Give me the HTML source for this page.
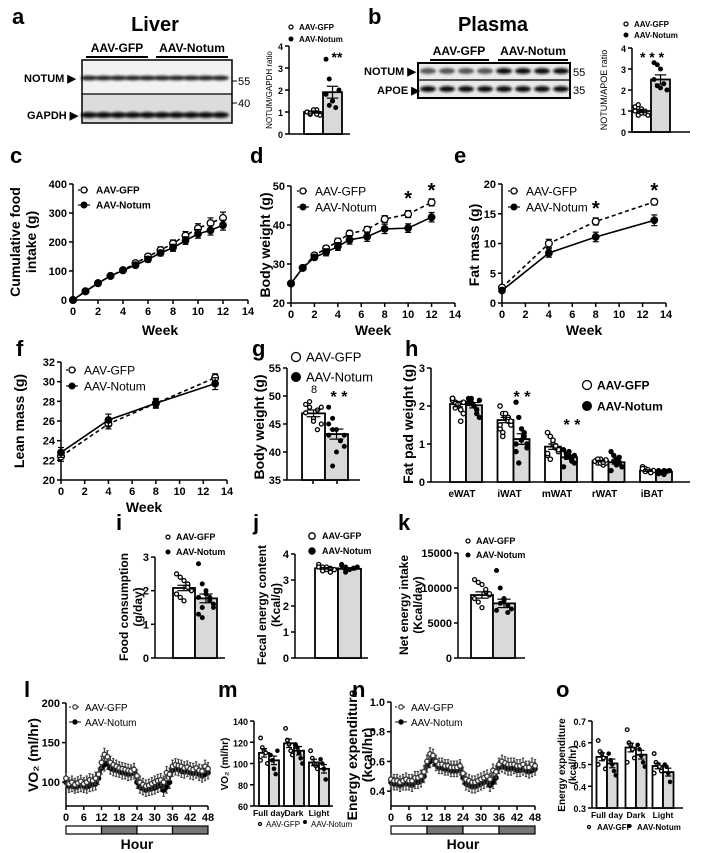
<!DOCTYPE html>
<html><head><meta charset="utf-8"><style>
html,body{margin:0;padding:0;background:#fff;}
svg{display:block;font-family:"Liberation Sans",Arial,sans-serif;}
</style></head><body>
<svg id="fig" width="709" height="853" viewBox="0 0 709 853" xmlns="http://www.w3.org/2000/svg">
<defs><filter id="blur" x="-20%" y="-100%" width="140%" height="300%"><feGaussianBlur stdDeviation="1.2"/></filter></defs>
</svg>
<script>
// ---------- DATA ----------
const aGfp=[1.0,0.9,1.05,1.1,0.85,1.0,0.95,1.1,0.9];
const aNotum=[3.4,2.5,1.5,1.2,2.0,1.8,1.3,1.5];
const aMeans=[1.0,1.9];
const aSem=[0.05,0.27];
const bGfp=[1.2,1.3,1.1,0.9,0.8,1.0,0.8,0.9];
const bNotum=[3.3,3.2,3.0,2.3,2.0,2.5,2.2,2.1];
const bMeans=[1.0,2.5];
const bSem=[0.08,0.22];
const cWeeks=[0,1,2,3,4,5,6,7,8,9,10,11,12];
const cGfp=[0,30,58,83,103,127,150,172,195,222,247,265,283];
const cGfpErr=[0,5,6,6,7,8,9,11,12,14,16,18,20];
const cNotum=[0,30,58,83,102,120,140,162,180,205,228,240,258];
const cNotumErr=[0,5,6,6,7,8,9,10,12,13,15,16,17];
const dWeeks=[0,1,2,3,4,5,6.5,8,10,12];
const dGfp=[25,29,32.2,34,35.8,37.8,38.8,41.5,42.8,45.8];
const dGfpErr=[0.5,0.5,0.6,0.7,0.8,0.8,0.8,0.9,0.9,0.9];
const dNotum=[25,29,31.7,33,34.5,36.2,37,39,39.2,42];
const dNotumErr=[0.5,0.5,0.6,0.9,1.0,1.1,1.2,1.2,1.1,1.2];
const eWeeks=[0,4,8,13];
const eGfp=[2.6,10,13.7,17];
const eGfpErr=[0.3,0.7,0.6,0.5];
const eNotum=[2.1,8.4,11.1,13.9];
const eNotumErr=[0.3,0.7,0.8,0.9];
const fWeeks=[0,4,8,13];
const fGfp=[22.4,25.7,27.8,30.4];
const fGfpErr=[0.5,0.5,0.4,0.4];
const fNotum=[22.8,26.1,27.8,29.8];
const fNotumErr=[0.5,0.6,0.5,0.6];
const gGfp=[48.5,49,46,44,45,47,48,45.5,47.5,48];
const gNotum=[48,46,44,42,41,43,37.5,40,42,43,45,44];
const gMeans=[46.9,43.2];
const gSem=[0.6,0.9];
const hCats=['eWAT','iWAT','mWAT','rWAT','iBAT'];
const hGfpMeans=[2.05,1.63,0.93,0.55,0.30];
const hNotumMeans=[2.02,1.13,0.65,0.52,0.27];
const hGfpSem=[0.07,0.07,0.07,0.02,0.02];
const hNotumSem=[0.07,0.14,0.05,0.05,0.02];
const hGfpPts=[[2.2,2.1,2.0,1.9,1.8,2.15,1.95,2.05,1.6,2.1,2.2],[2.0,1.8,1.7,1.6,1.5,1.4,1.3,1.8,1.7,1.6,1.5,1.2],[1.3,1.2,1.0,0.9,0.8,0.7,0.6,1.1,0.95,0.85,0.75],[0.55,0.5,0.6,0.45,0.5,0.55,0.6,0.5,0.52,0.58],[0.4,0.35,0.3,0.25,0.3,0.35,0.28,0.32,0.25]];
const hNotumPts=[[2.2,2.1,2.0,1.9,1.7,2.1,2.2,2.0,1.8,2.15],[2.1,1.7,1.4,1.2,1.0,0.8,0.5,1.1,1.3,0.9,1.0],[0.85,0.75,0.7,0.6,0.5,0.4,0.65,0.8,0.55,0.7],[0.8,0.7,0.6,0.5,0.4,0.3,0.55,0.45,0.65],[0.3,0.25,0.2,0.28,0.3,0.22,0.25,0.3]];
const iGfp=[2.5,2.4,2.3,2.2,2.0,1.9,1.8,1.7,2.1,2.0,1.9];
const iNotum=[2.8,2.2,2.0,1.8,1.5,1.3,1.2,1.9,1.7,1.6,1.8,1.5];
const iMeans=[2.08,1.77];
const iSem=[0.08,0.13];
const jGfp=[3.6,3.5,3.4,3.45,3.4,3.5,3.35,3.5,3.3,3.4,3.5];
const jNotum=[3.6,3.5,3.4,3.45,3.5,3.55,3.3,3.4,3.45];
const jMeans=[3.45,3.43];
const jSem=[0.03,0.04];
const kGfp=[11200,10800,10500,9500,9000,8500,8000,7200,9800,9200];
const kNotum=[12500,10000,8500,7500,7000,6800,7800,8200,6500];
const kMeans=[9000,7800];
const kSem=[450,600];
const lGfp=[105,98,100,97,99,101,98,100,103,102,105,110,125,135,132,125,122,120,118,117,116,115,114,116,108,100,97,95,96,98,100,102,103,100,112,110,120,122,121,120,118,119,117,116,118,115,114,120,117];
const lNotum=[100,95,96,94,95,96,95,94,96,97,98,105,118,122,124,118,116,115,114,112,112,110,111,112,100,94,92,90,91,92,93,95,96,90,94,100,115,117,116,114,113,115,112,111,113,110,108,110,112];
const mCats=['Full day','Dark','Light'];
const mGfpMeans=[110,119,101];
const mNotumMeans=[103,112,95];
const mGfpSem=[4,4,3];
const mNotumSem=[4,4,4];
const mGfpPts=[[124,115,112,110,100,103],[133,122,118,112,108],[112,105,100,98,95]];
const mNotumPts=[[108,103,95,90,112],[118,115,110,105,100],[104,100,95,85]];
const nGfp=[0.48,0.47,0.47,0.46,0.47,0.48,0.47,0.47,0.49,0.49,0.50,0.53,0.60,0.65,0.64,0.60,0.58,0.58,0.57,0.57,0.56,0.56,0.56,0.57,0.52,0.48,0.47,0.46,0.46,0.47,0.48,0.49,0.50,0.48,0.54,0.53,0.58,0.60,0.59,0.58,0.58,0.58,0.57,0.57,0.58,0.56,0.56,0.58,0.57];
const nNotum=[0.46,0.45,0.45,0.44,0.45,0.45,0.45,0.44,0.46,0.46,0.47,0.50,0.57,0.60,0.61,0.58,0.56,0.56,0.55,0.55,0.54,0.54,0.54,0.55,0.49,0.45,0.44,0.43,0.43,0.44,0.45,0.46,0.47,0.44,0.46,0.49,0.56,0.57,0.56,0.55,0.55,0.56,0.54,0.54,0.55,0.54,0.53,0.54,0.55];
const oCats=['Full day','Dark','Light'];
const oGfpMeans=[0.535,0.578,0.493];
const oNotumMeans=[0.505,0.545,0.465];
const oGfpSem=[0.018,0.02,0.013];
const oNotumSem=[0.02,0.02,0.018];
const oGfpPts=[[0.61,0.56,0.55,0.53,0.48,0.50],[0.66,0.60,0.59,0.57,0.53,0.51],[0.55,0.51,0.50,0.49,0.47,0.46]];
const oNotumPts=[[0.55,0.52,0.50,0.47,0.45],[0.59,0.57,0.54,0.51,0.49],[0.50,0.49,0.46,0.42]];

// ---------- HELPERS ----------
const svg=document.getElementById('fig');
const NS='http://www.w3.org/2000/svg';
function mk(tag,attrs,parent){const e=document.createElementNS(NS,tag);for(const k in attrs)e.setAttribute(k,attrs[k]);(parent||svg).appendChild(e);return e;}
function nm(e,name){
  
  
  return e;}
function grp(name){const g=mk('g',{});nm(g,name);return g;}
function txt(p,x,y,s,o){o=o||{};const t=mk('text',{x:x,y:y,'font-size':o.fs||11,'font-weight':o.w||'bold','text-anchor':o.a||'start',fill:o.c||'#000'},p);
  if(o.rot)t.setAttribute('transform','rotate(-90 '+x+' '+y+')');t.textContent=s;nm(t,o.n||'label');return t;}
function sc(d0,d1,r0,r1){return v=>r0+(v-d0)*(r1-r0)/(d1-d0);}
function line(p,x1,y1,x2,y2,o){o=o||{};const l=mk('line',{x1:x1,y1:y1,x2:x2,y2:y2,stroke:o.c||'#000','stroke-width':o.sw||1.5},p);if(o.dash)l.setAttribute('stroke-dasharray',o.dash);return l;}
function yAxis(p,x,ys,ticks,fmt,fs){const a=line(p,x,ys(ticks[0]),x,ys(ticks[ticks.length-1]));nm(a,'y-axis');
  ticks.forEach(t=>{line(p,x-4,ys(t),x,ys(t));txt(p,x-6,ys(t)+4,fmt?fmt(t):String(t),{a:'end',fs:fs||11,n:'y-tick-label'});});}
function xAxis(p,y,xs,ticks,fmt,fs){const a=line(p,xs(ticks[0]),y,xs(ticks[ticks.length-1]),y);nm(a,'x-axis');
  ticks.forEach(t=>{line(p,xs(t),y,xs(t),y+4);txt(p,xs(t),y+15,String(t),{a:'middle',fs:fs||11,n:'x-tick-label'});});}
function errBar(p,x,y1,y2,w,c){line(p,x,y1,x,y2,{c:c||'#000',sw:1.2});line(p,x-w,y1,x+w,y1,{c:c||'#000',sw:1.2});line(p,x-w,y2,x+w,y2,{c:c||'#000',sw:1.2});}
function marker(p,x,y,r,open,c){const m=mk('circle',{cx:x,cy:y,r:r,fill:open?'#fff':(c||'#000'),stroke:c||'#000','stroke-width':open?1.3:1},p);return m;}
function legend2(p,x,y1,y2,fs,w,style){
  if(style==='line'){line(p,x-6,y1,x+6,y1,{dash:'2,2',sw:1.2});marker(p,x,y1,3,true);line(p,x-6,y2,x+6,y2,{sw:1.2});marker(p,x,y2,3,false);}
  else{const rr=style==='big'?4.5:(style==='mid'?3.2:2);marker(p,x,y1,rr,true);marker(p,x,y2,rr,false);}
  const off=style==='line'?12:(style==='big'?10:(style==='mid'?10:8));
  txt(p,x+off,y1+fs/2.8,'AAV-GFP',{fs:fs,w:w,n:'legend-gfp'});txt(p,x+off,y2+fs/2.8,'AAV-Notum',{fs:fs,w:w,n:'legend-notum'});}

function lineChart(name,cfg,xs,ga,ge,na,ne){
  const p=grp(name);const X=sc(cfg.xd[0],cfg.xd[1],cfg.x0,cfg.x1),Y=sc(cfg.yd[0],cfg.yd[1],cfg.y0,cfg.y1);
  yAxis(p,cfg.x0,Y,cfg.yt);xAxis(p,cfg.y0,X,cfg.xt);
  [[ga,ge,true],[na,ne,false]].forEach(s=>{
    const pts=xs.map((w,i)=>X(w)+','+Y(s[0][i])).join(' ');
    const pl=mk('polyline',{points:pts,fill:'none',stroke:'#000','stroke-width':1.6},p);
    if(s[2])pl.setAttribute('stroke-dasharray','4,3');
    nm(pl,s[2]?'gfp-line':'notum-line');
    xs.forEach((w,i)=>{errBar(p,X(w),Y(s[0][i]-s[1][i]),Y(s[0][i]+s[1][i]),3);const m=marker(p,X(w),Y(s[0][i]),3.4,s[2]);nm(m,s[2]?'gfp-point':'notum-point');});
  });
  return {p,X,Y};}

function barPair(p,Y,cx,w,means,sems,gp,np,r){
  [0,1].forEach(k=>{const x=cx+(k?0:-w);const b=mk('rect',{x:x,y:Y(means[k]),width:w,height:Y.base-Y(means[k]),fill:k?'#d9d9d9':'#fff',stroke:'#000','stroke-width':1.8},p);
    nm(b,k?'bar-notum':'bar-gfp');
    const pts=k?np:gp;pts.forEach((v,i)=>{const jx=x+w/2+((i%5)-2)*w*0.17;const m=marker(p,jx,Y(v),r||2,!k);nm(m,k?'notum-dot':'gfp-dot');});
    errBar(p,x+w/2,Y(means[k]-sems[k]),Y(means[k]+sems[k]),w*0.3);});}

function yScale(d0,d1,r0,r1){const f=sc(d0,d1,r0,r1);f.base=r0;return f;}

// ---------- PANEL LETTERS ----------
[['a',12,24],['b',368,24],['c',10,163],['d',250,163],['e',454,163],['f',16,356],['g',252,356],['h',405,356],['i',116,530],['j',253,530],['k',398,530],['l',24,697],['m',218,697],['n',352,697],['o',556,697]].forEach(l=>txt(svg,l[1],l[2],l[0],{fs:22,n:'panel-label-'+l[0]}));

// ---------- BLOTS ----------
(function(){
  const p=grp('liver-blot');
  txt(p,155,31,'Liver',{fs:20,a:'middle',n:'liver-title'});
  txt(p,117,52,'AAV-GFP',{fs:12,a:'middle'});txt(p,192,52,'AAV-Notum',{fs:12,a:'middle'});
  line(p,86,57,148,57,{sw:2});line(p,156,57,228,57,{sw:2});
  mk('rect',{x:82,y:60,width:150,height:34,fill:'#f2f2f2'},p);
  mk('rect',{x:82,y:94,width:150,height:29,fill:'#dcdcdc'},p);
  for(let i=0;i<10;i++){const cx=89+i*14.6;mk('ellipse',{cx:cx,cy:78,rx:8.5,ry:2.4,fill:'#222',filter:'url(#blur)'},p);mk('ellipse',{cx:cx,cy:115,rx:8.5,ry:3,fill:'#111',filter:'url(#blur)'},p);}
  mk('rect',{x:82,y:60,width:150,height:63,fill:'none',stroke:'#000','stroke-width':1.5},p);
  line(p,82,94,232,94,{sw:1.2});
  txt(p,24,82,'NOTUM ▶',{fs:11});txt(p,27,119,'GAPDH ▶',{fs:11});
  line(p,232,81,237,81,{sw:1});txt(p,238,85,'55',{fs:11,w:'normal'});
  line(p,232,103,237,103,{sw:1});txt(p,238,107,'40',{fs:11,w:'normal'});

  const q=grp('plasma-blot');
  txt(q,493,31,'Plasma',{fs:20,a:'middle',n:'plasma-title'});
  txt(q,459,55,'AAV-GFP',{fs:12,a:'middle'});txt(q,533,55,'AAV-Notum',{fs:12,a:'middle'});
  line(q,430,60,489,60,{sw:2});line(q,498,60,568,60,{sw:2});
  mk('rect',{x:418,y:63,width:152,height:35,fill:'#eaeaea'},q);
  for(let i=0;i<8;i++){const cx=428+i*19;mk('ellipse',{cx:cx,cy:71,rx:8,ry:3,fill:i<4?'#555':'#111',filter:'url(#blur)'},q);mk('ellipse',{cx:cx,cy:89,rx:8,ry:3,fill:'#111',filter:'url(#blur)'},q);}
  mk('rect',{x:418,y:63,width:152,height:35,fill:'none',stroke:'#000','stroke-width':2},q);
  line(q,418,80,570,80,{sw:1.2});
  txt(q,364,75,'NOTUM ▶',{fs:11});txt(q,377,94,'APOE ▶',{fs:11});
  txt(q,573,76,'55',{fs:11,w:'normal'});txt(q,573,94,'35',{fs:11,w:'normal'});
})();

// ---------- SMALL BAR CHARTS ----------
function simpleBar(name,ax,y0,y1,d0,d1,ticks,cx,w,means,sems,gp,np,xEnd,fmt,fs){
  const p=grp(name);const Y=yScale(d0,d1,y0,y1);
  yAxis(p,ax,Y,ticks,fmt,fs);line(p,ax,y0,xEnd,y0);
  barPair(p,Y,cx,w,means,sems,gp,np);return p;}
let p;
p=simpleBar('chart-a',289,134,46,0,4,[0,1,2,3,4],323,19,aMeans,aSem,aGfp,aNotum,350,null,9);
legend2(p,291,27,39,8,'bold','dot');txt(p,337,62,'**',{fs:14,a:'middle',n:'significance'});
txt(p,272,90,'NOTUM/GAPDH ratio',{fs:8,w:'normal',a:'middle',rot:1,n:'y-axis-title'});
p=simpleBar('chart-b',632,132,48,0,4,[0,1,2,3,4],651,19,bMeans,bSem,bGfp,bNotum,690,null,9);
legend2(p,626,24,35,8,'bold','dot');txt(p,652,62,'* * *',{fs:14,a:'middle',n:'significance'});
txt(p,607,90,'NOTUM/APOE ratio',{fs:9,w:'normal',a:'middle',rot:1,n:'y-axis-title'});

// ---------- LINE CHARTS ----------
let r;
r=lineChart('chart-c',{x0:73,x1:248,xd:[0,14],xt:[0,2,4,6,8,10,12,14],y0:300,y1:184,yd:[0,400],yt:[0,100,200,300,400]},cWeeks,cGfp,cGfpErr,cNotum,cNotumErr);
legend2(r.p,84,190,205,10,'bold','line');
txt(r.p,20,242,'Cumulative food',{fs:14,a:'middle',rot:1,n:'y-axis-title'});txt(r.p,36,242,'intake (g)',{fs:14,a:'middle',rot:1,n:'y-axis-title'});
txt(r.p,160,335,'Week',{fs:14,a:'middle',n:'x-axis-title'});
r=lineChart('chart-d',{x0:291,x1:455,xd:[0,14],xt:[0,2,4,6,8,10,12,14],y0:303,y1:186,yd:[20,50],yt:[20,30,40,50]},dWeeks,dGfp,dGfpErr,dNotum,dNotumErr);
legend2(r.p,303,191,207,12,'normal','line');
txt(r.p,270,245,'Body weight (g)',{fs:14,a:'middle',rot:1,n:'y-axis-title'});
txt(r.p,373,335,'Week',{fs:14,a:'middle',n:'x-axis-title'});
txt(r.p,r.X(10),205,'*',{fs:20,a:'middle',n:'significance'});txt(r.p,r.X(12),197,'*',{fs:20,a:'middle',n:'significance'});
r=lineChart('chart-e',{x0:502,x1:666,xd:[0,14],xt:[0,2,4,6,8,10,12,14],y0:303,y1:184,yd:[0,20],yt:[0,5,10,15,20]},eWeeks,eGfp,eGfpErr,eNotum,eNotumErr);
legend2(r.p,514,191,207,12,'normal','line');
txt(r.p,479,245,'Fat mass (g)',{fs:14,a:'middle',rot:1,n:'y-axis-title'});
txt(r.p,584,335,'Week',{fs:14,a:'middle',n:'x-axis-title'});
txt(r.p,r.X(8),215,'*',{fs:20,a:'middle',n:'significance'});txt(r.p,r.X(13),197,'*',{fs:20,a:'middle',n:'significance'});
r=lineChart('chart-f',{x0:61,x1:227,xd:[0,14],xt:[0,2,4,6,8,10,12,14],y0:480,y1:362,yd:[20,32],yt:[20,22,24,26,28,30,32]},fWeeks,fGfp,fGfpErr,fNotum,fNotumErr);
legend2(r.p,72,370,386,12,'normal','line');
txt(r.p,24,421,'Lean mass (g)',{fs:14,a:'middle',rot:1,n:'y-axis-title'});
txt(r.p,144,512,'Week',{fs:14,a:'middle',n:'x-axis-title'});

// ---------- g ----------
p=simpleBar('chart-g',287,480,368,35,55,[35,40,45,50,55],325,23,gMeans,gSem,gGfp,gNotum,360,null,11);
line(p,313,480,313,484);line(p,337,480,337,484);
legend2(p,296,357,377,13,'normal','big');
txt(p,314,393,'8',{fs:11,w:'normal',a:'middle'});txt(p,339,402,'* *',{fs:16,a:'middle',n:'significance'});
txt(p,264,427,'Body weight (g)',{fs:14,a:'middle',rot:1,n:'y-axis-title'});

// ---------- h ----------
(function(){const p=grp('chart-h');const Y=yScale(0,3,482,368);yAxis(p,431,Y,[0,1,2,3]);line(p,431,482,690,482);
  hCats.forEach((c,i)=>{const cx=466+i*47.5;
    barPair(p,Y,cx,16,[hGfpMeans[i],hNotumMeans[i]],[hGfpSem[i],hNotumSem[i]],hGfpPts[i],hNotumPts[i],2.2);
    txt(p,cx-4,497,c,{fs:10,a:'middle',n:'x-category-label'});});
  legend2(p,587,385,406,12,'bold','big');
  txt(p,522,402,'* *',{fs:16,a:'middle',n:'significance'});txt(p,572,430,'* *',{fs:16,a:'middle',n:'significance'});
  txt(p,413,424,'Fat pad weight (g)',{fs:14,a:'middle',rot:1,n:'y-axis-title'});})();

// ---------- i j k ----------
p=simpleBar('chart-i',155,658,557,0,3,[0,1,2,3],195,22,iMeans,iSem,iGfp,iNotum,225,null,11);
legend2(p,168,537,552,9,'bold','dot');
txt(p,128,607,'Food consumption',{fs:12,a:'middle',rot:1,n:'y-axis-title'});txt(p,142,607,'(g/day)',{fs:12,a:'middle',rot:1,n:'y-axis-title'});
p=simpleBar('chart-j',295,658,554,0,4,[0,1,2,3,4],338,23,jMeans,jSem,jGfp,jNotum,368,null,11);
legend2(p,312,536,551,9,'bold','mid');
txt(p,266,605,'Fecal energy content',{fs:12,a:'middle',rot:1,n:'y-axis-title'});txt(p,280,605,'(Kcal/g)',{fs:12,a:'middle',rot:1,n:'y-axis-title'});
p=simpleBar('chart-k',458,658,553,0,15000,[0,5000,10000,15000],493,22,kMeans,kSem,kGfp,kNotum,525,null,11);
legend2(p,468,541,555,9,'bold','dot');
txt(p,408,605,'Net energy intake',{fs:12,a:'middle',rot:1,n:'y-axis-title'});txt(p,422,605,'(Kcal/day)',{fs:12,a:'middle',rot:1,n:'y-axis-title'});

// ---------- time series l, n ----------
function timeSeries(name,x0,x1,y0,y1,d0,d1,ticks,ga,na,fmt,leg){
  const p=grp(name);const X=sc(0,48,x0,x1),Y=sc(d0,d1,y0,y1);
  yAxis(p,x0,Y,ticks,fmt);line(p,x0,Y(ticks[0]),x0,y0);line(p,x0,y0,x1,y0);
  [0,6,12,18,24,30,36,42,48].forEach(t=>{line(p,X(t),y0,X(t),y0+4);txt(p,X(t),y0+15,String(t),{a:'middle',n:'x-tick-label'});});
  const span=(d1-d0)*0.06;
  [[na,false,'#000'],[ga,true,'#333']].forEach(s=>{
    const pl=mk('polyline',{points:s[0].map((v,i)=>X(i)+','+Y(v)).join(' '),fill:'none',stroke:s[2],'stroke-width':1},p);
    nm(pl,s[1]?'gfp-line':'notum-line');
    s[0].forEach((v,i)=>{errBar(p,X(i),Y(v-span),Y(v+span),1.2,'#444');const m=marker(p,X(i),Y(v),2.3,s[1],s[2]);nm(m,s[1]?'gfp-point':'notum-point');});});
  [[0,12,'#fff'],[12,24,'#777'],[24,36,'#fff'],[36,48,'#777']].forEach(b=>{const rr=mk('rect',{x:X(b[0]),y:y0+20,width:X(b[1])-X(b[0]),height:8,fill:b[2],stroke:'#000','stroke-width':1.2},p);nm(rr,'light-dark-bar');});
  txt(p,(x0+x1)/2,y0+43,'Hour',{fs:14,a:'middle',n:'x-axis-title'});
  line(p,leg-6,707,leg+6,707,{sw:1,dash:'2,2'});marker(p,leg,707,2.2,true,'#444');line(p,leg-6,722,leg+6,722,{sw:1});marker(p,leg,722,2.2,false);
  txt(p,leg+10,711,'AAV-GFP',{fs:10,w:'normal',n:'legend-gfp'});txt(p,leg+10,726,'AAV-Notum',{fs:10,w:'normal',n:'legend-notum'});
  return p;}
p=timeSeries('chart-l',66,208,806,703,70,200,[100,150,200],lGfp,lNotum,null,75);
txt(p,38,755,'VO\u2082 (ml/hr)',{fs:14,a:'middle',rot:1,n:'y-axis-title'});
p=timeSeries('chart-n',391,535,806,702,0.3,1.0,[0.4,0.6,0.8,1.0],nGfp,nNotum,t=>t.toFixed(1),401);
txt(p,357,755,'Energy expenditure',{fs:14,a:'middle',rot:1,n:'y-axis-title'});txt(p,372,755,'(kcal/hr)',{fs:14,a:'middle',rot:1,n:'y-axis-title'});

// ---------- m, o ----------
function groupBar(name,ax,y0,y1,d0,d1,ticks,centers,w,cats,gm,nmn,gs,ns,gp,np,xEnd,fmt){
  const p=grp(name);const Y=yScale(d0,d1,y0,y1);yAxis(p,ax,Y,ticks,fmt,9);line(p,ax,y0,xEnd,y0);
  cats.forEach((c,i)=>{barPair(p,Y,centers[i],w,[gm[i],nmn[i]],[gs[i],ns[i]],gp[i],np[i],1.8);txt(p,centers[i],y0+10,c,{fs:8.5,a:'middle',n:'x-category-label'});});
  return p;}
p=groupBar('chart-m',254,806,721,60,140,[60,80,100,120,140],[269,294,319],10,mCats,mGfpMeans,mNotumMeans,mGfpSem,mNotumSem,mGfpPts,mNotumPts,333,null);
marker(p,260,824,1.5,true);txt(p,266,827,'AAV-GFP',{fs:8,w:'normal',n:'legend-gfp'});marker(p,305,822,1.5,false);txt(p,311,827,'AAV-Notum',{fs:8,w:'normal',n:'legend-notum'});
txt(p,228,764,'VO\u2082 (ml/hr)',{fs:10,a:'middle',rot:1,n:'y-axis-title'});
p=groupBar('chart-o',592,808,721,0.3,0.7,[0.3,0.4,0.5,0.6,0.7],[607,636,663],10.5,oCats,oGfpMeans,oNotumMeans,oGfpSem,oNotumSem,oGfpPts,oNotumPts,683,t=>t.toFixed(1));
marker(p,589,827,1.5,true);txt(p,597,830,'AAV-GFP',{fs:8,n:'legend-gfp'});marker(p,629,826,1.5,false);txt(p,637,830,'AAV-Notum',{fs:8,n:'legend-notum'});
txt(p,565,765,'Energy expenditure',{fs:10,a:'middle',rot:1,n:'y-axis-title'});txt(p,576,765,'(kcal/hr)',{fs:10,a:'middle',rot:1,n:'y-axis-title'});
</script>
</body></html>
